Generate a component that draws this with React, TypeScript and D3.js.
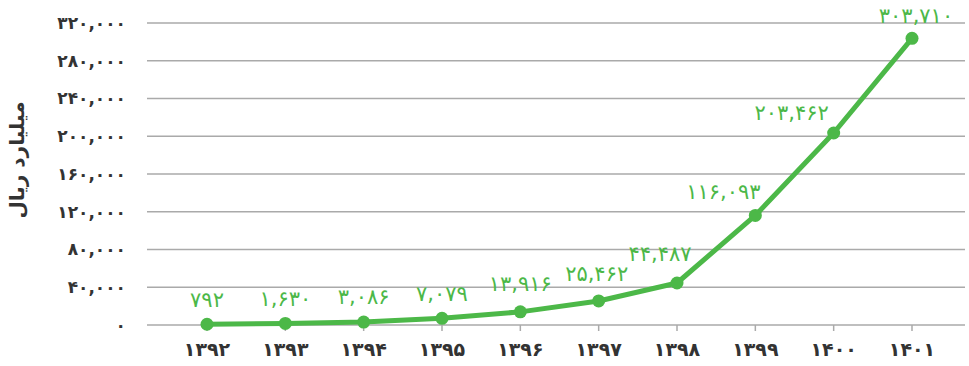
import React from "react";
import * as d3 from "d3";

const years = ["۱۳۹۲", "۱۳۹۳", "۱۳۹۴", "۱۳۹۵", "۱۳۹۶", "۱۳۹۷", "۱۳۹۸", "۱۳۹۹", "۱۴۰۰", "۱۴۰۱"];
const values = [792, 1630, 3086, 7079, 13916, 25462, 44487, 116093, 203462, 303710];
const yTicks = [0, 40000, 80000, 120000, 160000, 200000, 240000, 280000, 320000];
const yTitle = "میلیارد ریال";

const W = 969;
const H = 366;
const plotLeft = 147;
const plotRight = 965;
const plotTop = 23;
const plotBottom = 325;
const green = "#4cb848";
const font = "'DejaVu Sans', sans-serif";

// small nudges that keep the value labels clear of the line
const labelDx = [0, 0, 0, 0, 0, -2, -17, -32, -42, 4];
const labelDy = [-25, -25, -25, -25, -28, -27, -29, -24, -20, -23];

const persianDigits = "۰۱۲۳۴۵۶۷۸۹";
const toPersian = (s: string) => s.replace(/[0-9]/g, (d) => persianDigits[+d]);
const fmt = (v: number) => toPersian(d3.format(",")(v));

export default function App() {
  const x = d3.scalePoint<string>().domain(years).range([207, 912]);
  const y = d3.scaleLinear().domain([0, 320000]).range([plotBottom, plotTop]);
  const pts = years.map((yr, i) => [x(yr) as number, y(values[i])] as [number, number]);
  const line = d3.line<[number, number]>()(pts) || "";

  return (
    <svg width={W} height={H} style={{ position: "absolute", left: 0, top: 0, background: "#fff" }}>
      {yTicks.map((t) => (
        <g key={t}>
          <line x1={plotLeft} x2={plotRight} y1={y(t)} y2={y(t)} stroke="#aaaaaa" strokeWidth={1.5} />
          <text
            x={126}
            y={y(t)}
            dy="0.35em"
            textAnchor="end"
            fontFamily={font}
            fontWeight="bold"
            fontSize={17}
            fill="#333"
          >
            {fmt(t)}
          </text>
        </g>
      ))}
      {years.map((yr) => (
        <g key={yr}>
          <line x1={x(yr)} x2={x(yr)} y1={plotBottom} y2={plotBottom + 6} stroke="#aaaaaa" strokeWidth={1.5} />
          <text
            x={x(yr)}
            y={356}
            textAnchor="middle"
            fontFamily={font}
            fontWeight="bold"
            fontSize={19}
            fill="#333"
          >
            {yr}
          </text>
        </g>
      ))}
      <text
        transform={`translate(24,160) rotate(-90)`}
        textAnchor="middle"
        fontFamily={font}
        fontWeight="bold"
        fontSize={20}
        fill="#333"
      >
        {yTitle}
      </text>
      <path d={line} fill="none" stroke={green} strokeWidth={5} strokeLinejoin="round" />
      {pts.map(([px, py], i) => (
        <circle key={i} cx={px} cy={py} r={6.5} fill={green} />
      ))}
      {pts.map(([px, py], i) => (
        <text
          key={"l" + i}
          x={px + labelDx[i]}
          y={py + labelDy[i]}
          dy="0.35em"
          textAnchor="middle"
          fontFamily={font}
          fontSize={21}
          fill={green}
        >
          {fmt(values[i])}
        </text>
      ))}
    </svg>
  );
}
